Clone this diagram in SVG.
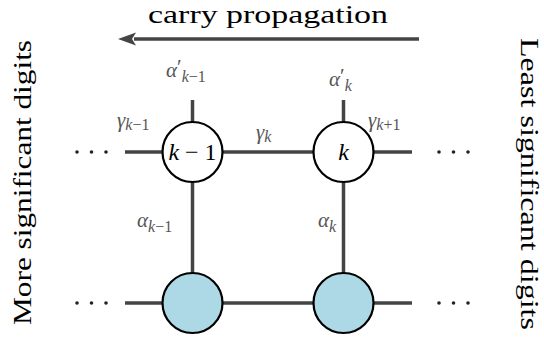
<svg xmlns="http://www.w3.org/2000/svg" width="544" height="348" viewBox="0 0 544 348">
<style>
.wire{stroke:#444;stroke-width:3.5;fill:none}
.node{stroke:#000;stroke-width:2.2}
.top{fill:#fff}
.bot{fill:#add8e6}
.serif{font-family:"Liberation Serif","DejaVu Serif",serif}
.lbl{fill:#555;font-size:21px}
.i{font-style:italic}
.sub{font-size:16px}
.ttl{fill:#000}
.nl{fill:#000;font-size:24px;text-anchor:middle}
.dot{fill:#222}
</style>
<defs>
<marker id="arr" markerUnits="userSpaceOnUse" viewBox="0 -7 20 14" markerWidth="20" markerHeight="14" refX="2" refY="0" orient="auto">
<path d="M0,-6.5 L18,0 L0,6.5 L4,0 z" fill="#444"/>
</marker>
</defs>
<rect width="544" height="348" fill="#fff"/>
<text class="ttl serif" x="148" y="23" font-size="26" textLength="240" lengthAdjust="spacingAndGlyphs">carry propagation</text>
<g id="connectors">
<line class="wire" x1="419" y1="39" x2="134" y2="39" marker-end="url(#arr)"/>
<line class="wire" x1="125" y1="152" x2="412" y2="152"/>
<line class="wire" x1="125" y1="303" x2="412" y2="303"/>
<line class="wire" x1="192.5" y1="100" x2="192.5" y2="303"/>
<line class="wire" x1="343.5" y1="100" x2="343.5" y2="303"/>
</g>
<g id="labels" class="serif">
<text class="lbl" x="166" y="77"><tspan class="i">α</tspan><tspan dy="-3">′</tspan><tspan class="sub i" dy="8">k</tspan><tspan class="sub">−1</tspan></text>
<text class="lbl" x="329" y="86"><tspan class="i">α</tspan><tspan dy="-3">′</tspan><tspan class="sub i" dy="8">k</tspan></text>
<text class="lbl" x="117" y="127"><tspan class="i">γ</tspan><tspan class="sub i" dy="3">k</tspan><tspan class="sub">−1</tspan></text>
<text class="lbl" x="368" y="127"><tspan class="i">γ</tspan><tspan class="sub i" dy="3">k</tspan><tspan class="sub">+1</tspan></text>
<text class="lbl" x="256" y="139"><tspan class="i">γ</tspan><tspan class="sub i" dy="3">k</tspan></text>
<text class="lbl" x="137" y="227"><tspan class="i">α</tspan><tspan class="sub i" dy="5">k</tspan><tspan class="sub">−1</tspan></text>
<text class="lbl" x="318" y="227"><tspan class="i">α</tspan><tspan class="sub i" dy="5">k</tspan></text>
</g>
<g id="node-k-1">
<circle class="node top" cx="192.5" cy="152" r="30"/>
<text class="nl serif" x="192.5" y="160"><tspan font-style="italic">k</tspan> − 1</text>
</g>
<g id="node-k">
<circle class="node top" cx="343.5" cy="152" r="30"/>
<text class="nl serif" x="343.5" y="160" font-style="italic">k</text>
</g>
<g id="node-b-k-1">
<circle class="node bot" cx="192.5" cy="303" r="30"/>
</g>
<g id="node-b-k">
<circle class="node bot" cx="343.5" cy="303" r="30"/>
</g>
<g id="dots">
<circle class="dot" cx="77" cy="152" r="1.8"/><circle class="dot" cx="91.5" cy="152" r="1.8"/><circle class="dot" cx="106" cy="152" r="1.8"/>
<circle class="dot" cx="77" cy="303" r="1.8"/><circle class="dot" cx="91.5" cy="303" r="1.8"/><circle class="dot" cx="106" cy="303" r="1.8"/>
<circle class="dot" cx="439" cy="152" r="1.8"/><circle class="dot" cx="453.5" cy="152" r="1.8"/><circle class="dot" cx="468" cy="152" r="1.8"/>
<circle class="dot" cx="439" cy="303" r="1.8"/><circle class="dot" cx="453.5" cy="303" r="1.8"/><circle class="dot" cx="468" cy="303" r="1.8"/>
</g>
<text class="ttl serif" font-size="25" transform="translate(31,325) rotate(-90)" textLength="285" lengthAdjust="spacingAndGlyphs">More significant digits</text>
<text class="ttl serif" font-size="25" transform="translate(521,38) rotate(90)" textLength="292" lengthAdjust="spacingAndGlyphs">Least significant digits</text>
</svg>
